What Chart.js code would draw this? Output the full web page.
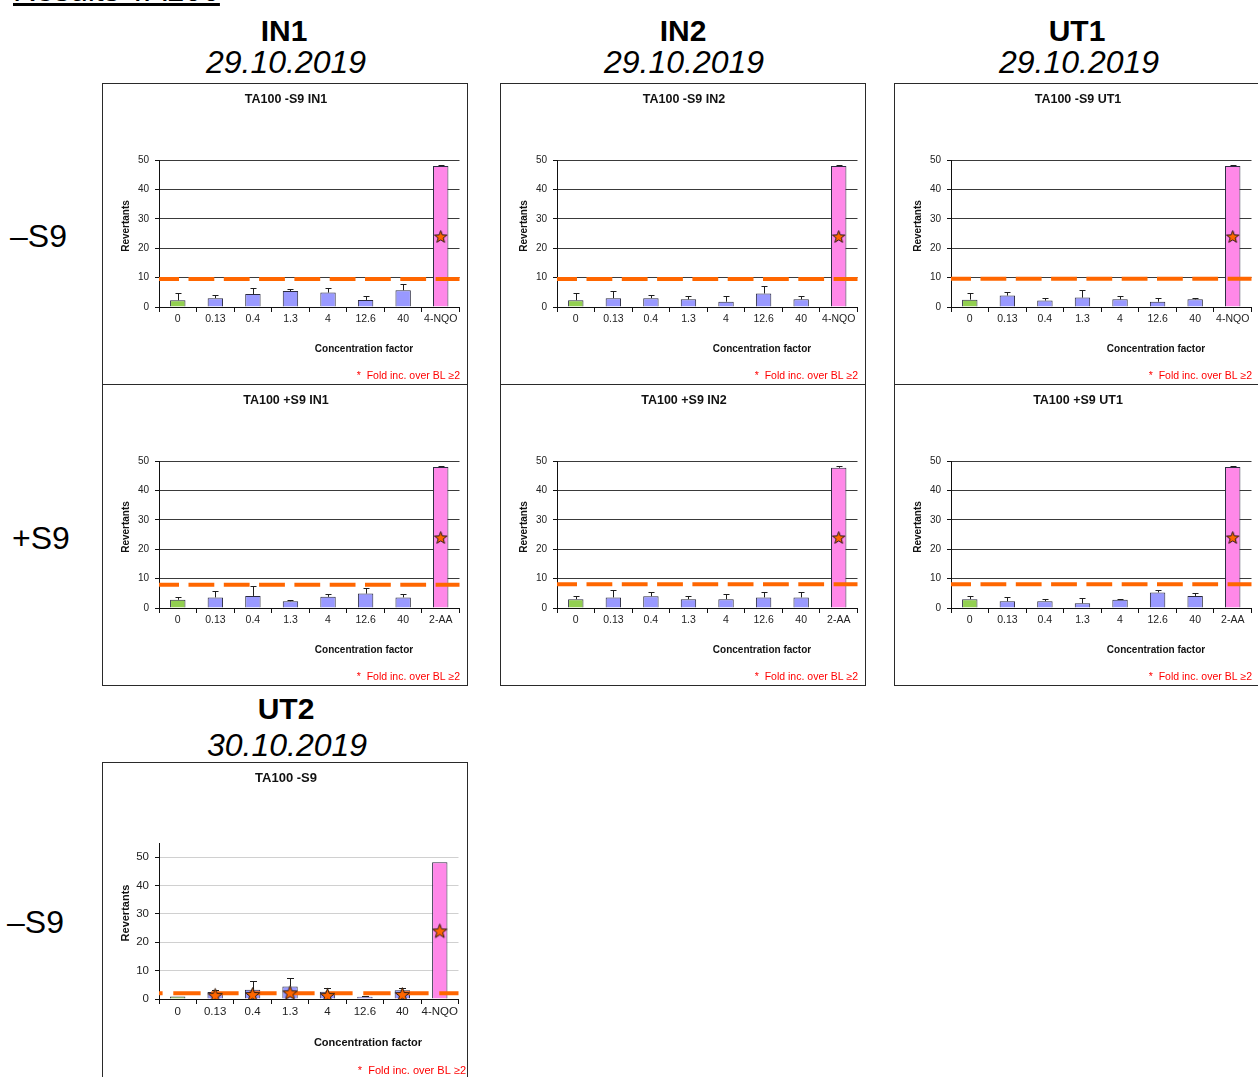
<!DOCTYPE html>
<html>
<head>
<meta charset="utf-8">
<title>Results TA100</title>
<script src="https://cdn.jsdelivr.net/npm/chart.js@4.4.1/dist/chart.umd.min.js"></script>
<style>
  html, body { margin: 0; padding: 0; background: #fff; overflow: hidden; width: 1258px; height: 1077px; }
  body { position: relative; font-family: "Liberation Sans", Arial, sans-serif; color: #000; }
  .t { position: absolute; white-space: nowrap; line-height: 1; }
  .page-title { font-size: 32px; text-decoration: underline; }
  .head { font-weight: bold; font-size: 30px; transform: translateX(-50%); }
  .date { font-style: italic; font-size: 32px; transform: translateX(-50%); }
  .cond { font-size: 32px; }
  .box { position: absolute; border: 1px solid #2a2a2a; background: #fff; }
  .box canvas { display: block; }
</style>
</head>
<body>
<div class="t page-title" style="left:13px; top:-26px;">Results TA100</div>

<div class="t head" style="left:284px; top:16px;">IN1</div>
<div class="t date" style="left:286px; top:46px;">29.10.2019</div>
<div class="t head" style="left:683px; top:16px;">IN2</div>
<div class="t date" style="left:684px; top:46px;">29.10.2019</div>
<div class="t head" style="left:1077px; top:16px;">UT1</div>
<div class="t date" style="left:1079px; top:46px;">29.10.2019</div>
<div class="t head" style="left:286px; top:694px;">UT2</div>
<div class="t date" style="left:287px; top:729px;">30.10.2019</div>

<div class="t cond" style="left:10px; top:220px;">–S9</div>
<div class="t cond" style="left:12px; top:522px;">+S9</div>
<div class="t cond" style="left:7px; top:906px;">–S9</div>

<div class="box" id="p1" style="left:102px; top:83px;"><canvas id="c1"></canvas></div>
<div class="box" id="p2" style="left:500px; top:83px;"><canvas id="c2"></canvas></div>
<div class="box" id="p3" style="left:894px; top:83px;"><canvas id="c3"></canvas></div>
<div class="box" id="p4" style="left:102px; top:384px;"><canvas id="c4"></canvas></div>
<div class="box" id="p5" style="left:500px; top:384px;"><canvas id="c5"></canvas></div>
<div class="box" id="p6" style="left:894px; top:384px;"><canvas id="c6"></canvas></div>
<div class="box" id="p7" style="left:102px; top:762px;"><canvas id="c7"></canvas></div>

<script>
// ---- Concentration factors (x categories) ----
const dosesNQO = ['0', '0.13', '0.4', '1.3', '4', '12.6', '40', '4-NQO'];
const dosesAA  = ['0', '0.13', '0.4', '1.3', '4', '12.6', '40', '2-AA'];
const revertantTicks = [0, 10, 20, 30, 40, 50];

// ---- Mean revertants and SD per sample ----
const in1MinusS9   = [2.3, 3.0, 4.4, 5.4, 4.9, 2.4, 5.7, 48.0];
const in1MinusS9Sd = [2.3, 1.1, 2.2, 0.6, 1.4, 1.2, 2.2, 0.3];
const in2MinusS9   = [2.3, 3.0, 3.0, 2.6, 1.8, 4.6, 2.6, 48.0];
const in2MinusS9Sd = [2.3, 2.6, 1.0, 1.3, 2.0, 2.4, 1.2, 0.3];
const ut1MinusS9   = [2.5, 3.9, 2.2, 3.2, 2.6, 1.8, 2.6, 48.0];
const ut1MinusS9Sd = [2.3, 1.2, 1.0, 2.7, 1.3, 1.4, 0.5, 0.3];
const in1PlusS9    = [2.8, 3.6, 4.1, 2.3, 3.8, 4.9, 3.6, 48.0];
const in1PlusS9Sd  = [1.1, 2.1, 3.4, 0.5, 1.1, 1.8, 1.0, 0.3];
const in2PlusS9    = [3.0, 3.6, 4.0, 3.0, 3.0, 3.6, 3.6, 47.7];
const in2PlusS9Sd  = [1.0, 2.5, 1.6, 1.0, 1.9, 2.0, 1.7, 0.5];
const ut1PlusS9    = [3.0, 2.3, 2.3, 1.6, 2.8, 5.3, 4.1, 48.0];
const ut1PlusS9Sd  = [1.1, 1.6, 0.7, 1.7, 0.4, 0.8, 1.0, 0.3];
const ut2MinusS9   = [0.9, 2.5, 3.3, 4.4, 2.6, 0.8, 3.1, 48.2];
const ut2MinusS9Sd = [null, 0.7, 3.1, 3.1, 1.3, 0.3, 0.8, null];

// ---- 2x background level (dashed line) ----
const in1MinusS9Bl = 9.5;
const in2MinusS9Bl = 9.5;
const ut1MinusS9Bl = 9.6;
const in1PlusS9Bl  = 7.9;
const in2PlusS9Bl  = 8.1;
const ut1PlusS9Bl  = 8.1;
const ut2MinusS9Bl = 2.0;

// ---- Fold-increase markers (star) ----
const positiveOnlyFold = [null, null, null, null, null, null, null, 24];
const ut2MinusS9Fold   = [null, 1.3, 1.6, 2.2, 1.3, null, 1.6, 24];

const FONT = '"Liberation Sans", Arial, sans-serif';
Chart.defaults.font.family = FONT;
Chart.defaults.color = '#222';

// Orange five-pointed star used as point marker
function starImage(size) {
  const c = document.createElement('canvas');
  c.width = size + 2; c.height = size + 2;
  const g = c.getContext('2d');
  const cx = c.width / 2, cy = c.height / 2 + 0.6;
  const ro = size / 2, ri = ro * 0.42;
  g.beginPath();
  for (let k = 0; k < 10; k++) {
    const r = k % 2 === 0 ? ro : ri;
    const a = -Math.PI / 2 + k * Math.PI / 5;
    const px = cx + r * Math.cos(a), py = cy + r * Math.sin(a);
    k === 0 ? g.moveTo(px, py) : g.lineTo(px, py);
  }
  g.closePath();
  g.fillStyle = '#ff6600';
  g.fill();
  g.lineWidth = 1;
  g.strokeStyle = '#2a1a10';
  g.stroke();
  return c;
}

const rowStyle = {
  W: 364, H: 300,
  area: { left: 56, top: 76, right: 357, bottom: 223 },
  yMax: 50, gridColor: '#3a3a3a',
  yTickFont: 10, xTickFont: 10.5, titleFont: 12.5, axisFont: 10, footFont: 10.5,
  titleY: 15.5, yTitle: [23, 142], xTitle: [261, 265.5], foot: [357, 292],
  dash: [25.8, 9.5], dashOffset: 5.8, cap: 6, star: 13
};
const lowStyle = {
  W: 364, H: 330,
  area: { left: 56, top: 80, right: 359, bottom: 236 },
  yMax: 55, gridColor: '#d0d0d0',
  yTickFont: 11.5, xTickFont: 11.5, titleFont: 13, axisFont: 11, footFont: 11,
  titleY: 15.5, yTitle: [23, 150], xTitle: [265, 280], foot: [363, 308],
  dash: [27.3, 10.7], dashOffset: 23.7, cap: 7, star: 15
};

function makePanel(canvasId, title, labels, means, sd, baseline, fold, st) {
  const cv = document.getElementById(canvasId);
  cv.width = st.W; cv.height = st.H;
  cv.style.width = st.W + 'px'; cv.style.height = st.H + 'px';
  const n = labels.length;
  const fills = labels.map((_, i) => i === 0 ? '#92d050' : (i === n - 1 ? '#ff88e8' : '#9999ff'));
  const AXIS_H = 30;

  const overlay = {
    id: 'overlay' + canvasId,
    afterDatasetDraw(chart, args) {
      if (args.index !== 0) return;
      const { ctx, chartArea, scales } = chart;
      const y = scales.y;
      const meta = chart.getDatasetMeta(0);
      ctx.save();
      // error bars (upper whisker only)
      ctx.strokeStyle = '#1e1e1e';
      ctx.lineWidth = 1;
      sd.forEach((s, i) => {
        if (s == null) return;
        const xc = Math.round(meta.data[i].x) + 0.5;
        const yTop = y.getPixelForValue(means[i]);
        const yCap = Math.round(y.getPixelForValue(means[i] + s)) + 0.5;
        ctx.beginPath();
        ctx.moveTo(xc, yTop); ctx.lineTo(xc, yCap);
        ctx.moveTo(xc - st.cap / 2, yCap); ctx.lineTo(xc + st.cap / 2, yCap);
        ctx.stroke();
      });
      // dashed 2x background line across the plot
      const yb = y.getPixelForValue(baseline);
      ctx.strokeStyle = '#ff6600';
      ctx.lineWidth = 4;
      ctx.lineCap = 'butt';
      ctx.setLineDash(st.dash);
      ctx.lineDashOffset = st.dashOffset;
      ctx.beginPath();
      ctx.moveTo(chartArea.left, yb); ctx.lineTo(chartArea.right, yb);
      ctx.stroke();
      ctx.restore();
    },
    afterDraw(chart) {
      const ctx = chart.ctx;
      ctx.save();
      ctx.textBaseline = 'middle';
      ctx.textAlign = 'center';
      ctx.fillStyle = '#111';
      ctx.font = 'bold ' + st.titleFont + 'px ' + FONT;
      ctx.fillText(title, st.W / 2 + 1, st.titleY);
      ctx.font = 'bold ' + st.axisFont + 'px ' + FONT;
      ctx.fillText('Concentration factor', st.xTitle[0], st.xTitle[1]);
      ctx.save();
      ctx.translate(st.yTitle[0], st.yTitle[1]);
      ctx.rotate(-Math.PI / 2);
      ctx.fillText('Revertants', 0, 0);
      ctx.restore();
      ctx.textAlign = 'right';
      ctx.fillStyle = '#ff0000';
      ctx.font = st.footFont + 'px ' + FONT;
      ctx.fillText('*  Fold inc. over BL \u22652', st.foot[0], st.foot[1]);
      ctx.restore();
    }
  };

  return new Chart(cv, {
    data: {
      labels: labels,
      datasets: [
        {
          type: 'bar',
          data: means,
          backgroundColor: fills,
          borderColor: '#2b2b40',
          borderWidth: 1,
          barPercentage: 0.41,
          categoryPercentage: 1.0,
          order: 2
        },
        {
          type: 'line',
          data: fold,
          showLine: false,
          pointStyle: starImage(st.star),
          pointRadius: st.star / 2,
          order: 1
        }
      ]
    },
    options: {
      responsive: false,
      maintainAspectRatio: false,
      animation: false,
      events: [],
      layout: {
        padding: {
          left: st.area.left - 56,
          top: st.area.top,
          right: st.W - st.area.right,
          bottom: st.H - st.area.bottom - AXIS_H
        }
      },
      plugins: { legend: { display: false }, tooltip: { enabled: false } },
      scales: {
        x: {
          type: 'category',
          offset: true,
          afterFit(scale) { scale.height = AXIS_H; },
          grid: { offset: true, drawOnChartArea: false, drawTicks: true, tickLength: 5, color: '#111', lineWidth: 1 },
          border: { display: true, color: '#111', width: 1 },
          ticks: { autoSkip: false, maxRotation: 0, minRotation: 0, padding: 1, color: '#222', font: { size: st.xTickFont } }
        },
        y: {
          type: 'linear',
          min: 0,
          max: st.yMax,
          afterFit(scale) { scale.width = 56; },
          afterBuildTicks(scale) { scale.ticks = revertantTicks.map(v => ({ value: v })); },
          grid: { color: st.gridColor, tickColor: '#111', lineWidth: 1, tickLength: 4 },
          border: { display: true, color: '#111', width: 1 },
          ticks: { stepSize: 10, padding: 6, color: '#222', font: { size: st.yTickFont } }
        }
      }
    },
    plugins: [overlay]
  });
}

makePanel('c1', 'TA100 -S9 IN1', dosesNQO, in1MinusS9, in1MinusS9Sd, in1MinusS9Bl, positiveOnlyFold, rowStyle);
makePanel('c2', 'TA100 -S9 IN2', dosesNQO, in2MinusS9, in2MinusS9Sd, in2MinusS9Bl, positiveOnlyFold, rowStyle);
makePanel('c3', 'TA100 -S9 UT1', dosesNQO, ut1MinusS9, ut1MinusS9Sd, ut1MinusS9Bl, positiveOnlyFold, rowStyle);
makePanel('c4', 'TA100 +S9 IN1', dosesAA, in1PlusS9, in1PlusS9Sd, in1PlusS9Bl, positiveOnlyFold, rowStyle);
makePanel('c5', 'TA100 +S9 IN2', dosesAA, in2PlusS9, in2PlusS9Sd, in2PlusS9Bl, positiveOnlyFold, rowStyle);
makePanel('c6', 'TA100 +S9 UT1', dosesAA, ut1PlusS9, ut1PlusS9Sd, ut1PlusS9Bl, positiveOnlyFold, rowStyle);
makePanel('c7', 'TA100 -S9', dosesNQO, ut2MinusS9, ut2MinusS9Sd, ut2MinusS9Bl, ut2MinusS9Fold, lowStyle);
</script>
</body>
</html>
